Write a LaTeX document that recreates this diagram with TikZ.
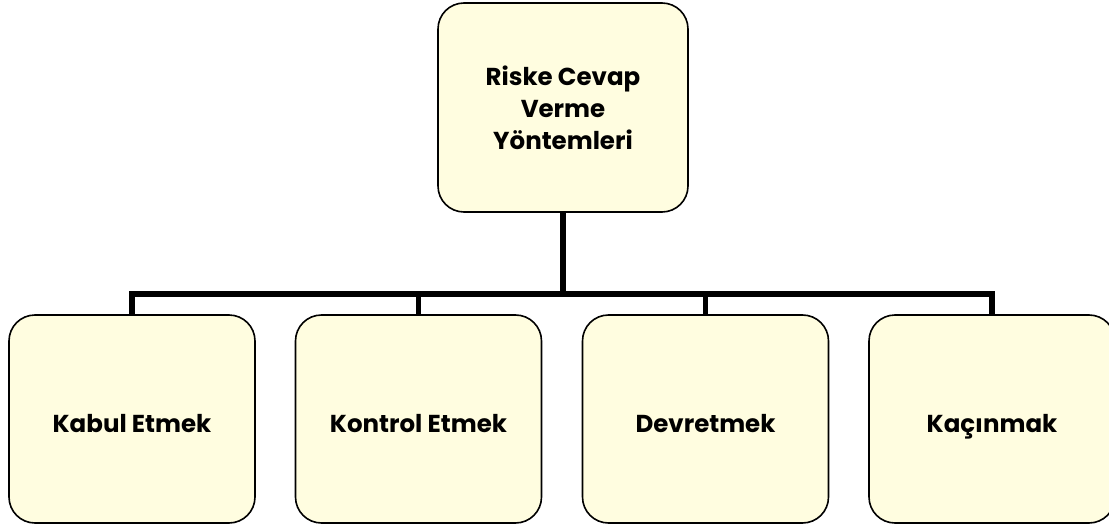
\documentclass[tikz,border=0pt]{standalone}
\usepackage{fontspec}
\setmainfont{Poppins}
\begin{document}
\begin{tikzpicture}[x=1pt,y=-1pt,
  box/.style={draw=black, line width=1.6pt, rounded corners=26pt,
    fill={rgb,255:red,255;green,253;blue,224},
    minimum width=246pt, minimum height=208pt,
    font=\fontsize{24.5}{32}\selectfont\bfseries, align=center},
  leaf/.style={box, text height=30pt, text depth=4pt},
  link/.style={line width=5.5pt, line join=miter}]
  \clip (0,0) rectangle (1109,527);
  \fill[white] (0,0) rectangle (1109,527);

  % root and the four responses
  \node[box, minimum width=250pt, minimum height=209pt] (root) at (563,107.5)
    {Riske Cevap\\Verme\\Yöntemleri};
  \node[leaf] (kabul)   at (132,419)   {Kabul Etmek};
  \node[leaf] (kontrol) at (418.5,419) {Kontrol Etmek};
  \node[leaf] (devret)  at (705.5,419) {Devretmek};
  \node[leaf] (kacin)   at (992,419)   {Kaçınmak};

  % tree connectors
  \coordinate (bus) at (563,294);
  \draw[link] (root.south) -- (bus);
  \draw[link] (bus) -| (kabul.north);
  \draw[link] (bus) -| (kontrol.north);
  \draw[link] (bus) -| (devret.north);
  \draw[link] (bus) -| (kacin.north);
\end{tikzpicture}
\end{document}
